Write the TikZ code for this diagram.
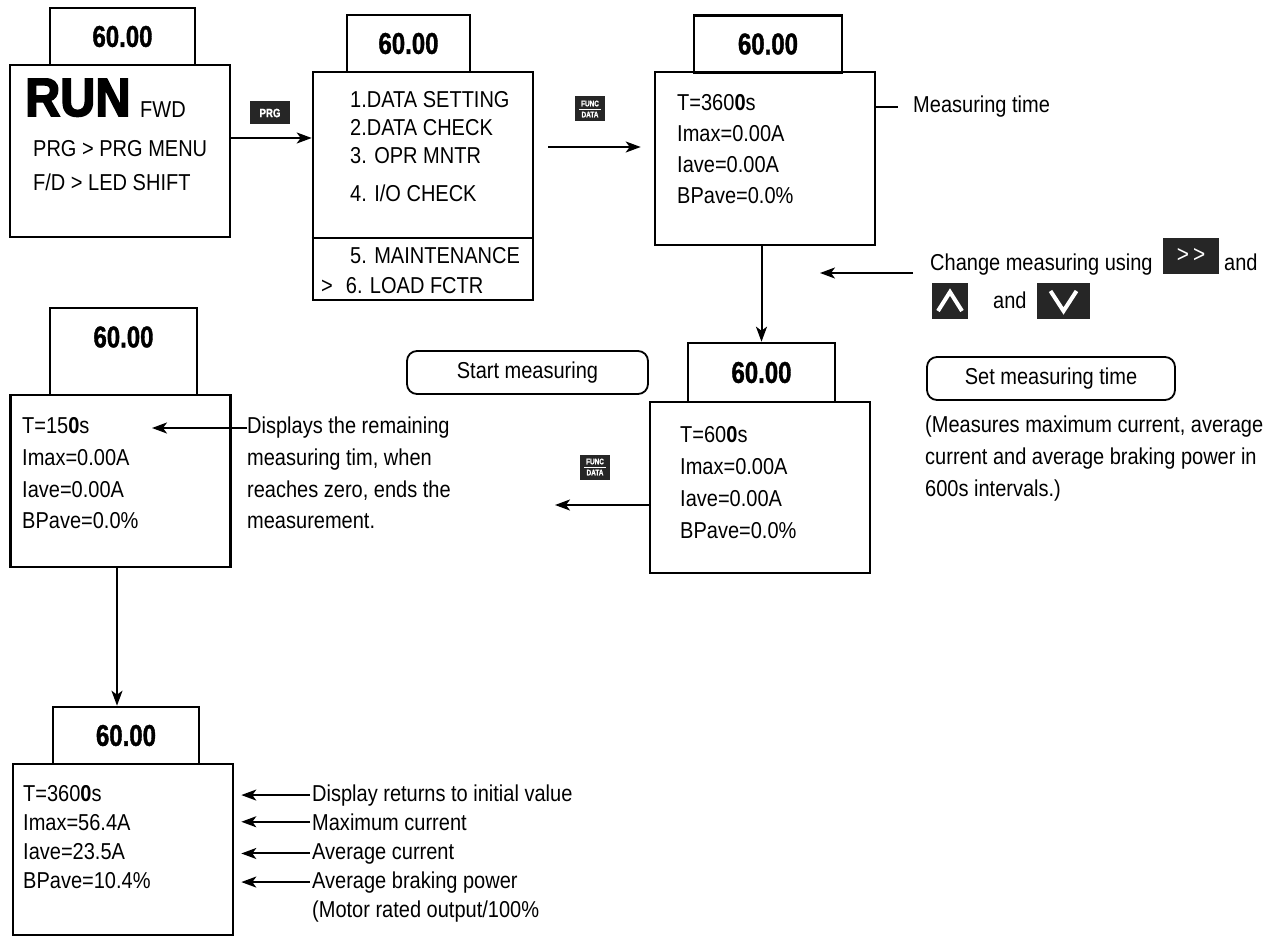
\documentclass[tikz,border=0pt]{standalone}
\usepackage{fontspec}
\setmainfont{Liberation Sans}[FakeStretch=0.87]
\newfontfamily\condfont[FakeStretch=0.8, BoldFeatures={FakeBold=1.2}]{Liberation Sans}
\newfontfamily\heavyfont[FakeStretch=0.9, BoldFeatures={FakeBold=3}]{Liberation Sans}
\usetikzlibrary{arrows.meta}

\begin{document}
\begin{tikzpicture}[x=1pt, y=-1pt,
  scr/.style={draw, line width=2.6pt, minimum width=220pt, inner sep=0pt},
  hdr/.style={draw, line width=2.6pt, inner sep=0pt,
              font=\fontsize{30}{30}\condfont\bfseries},
  txt/.style={anchor=base west, inner sep=0pt, font=\fontsize{23}{23}\selectfont},
  key/.style={fill=black!85, text=white, inner sep=0pt, font=\condfont\bfseries},
  note/.style={draw, rounded corners=10pt, line width=1.8pt, inner sep=0pt,
               font=\fontsize{23}{23}\selectfont},
  arr/.style={-{Stealth[length=15pt, width=11pt, inset=4pt]}, line width=2pt},
  ln/.style={line width=2pt}
]
  \useasboundingbox (0,0) rectangle (1271,936);

  % run screen
  \node[hdr, minimum width=145pt, minimum height=57pt] (hdrA) at (122.5,36.5) {60.00};
  \node[scr, minimum height=172pt] (scrA) at (120,151) {};
  \node[txt, font=\fontsize{54}{54}\heavyfont\bfseries] (run) at (25,116) {RUN};
  \node[txt] (fwd) at (140,118) {FWD};
  \node[txt] (a1) at (33,157) {PRG > PRG MENU};
  \node[txt] (a2) at (33,190) {F/D > LED SHIFT};

  % menu screen
  \node[hdr, minimum width=123pt, minimum height=57pt] (hdrB) at (408.5,43.5) {60.00};
  \node[scr, minimum height=228pt] (scrB) at (423,186) {};
  \draw[line width=2.6pt] ([yshift=-52pt]scrB.west) -- ([yshift=-52pt]scrB.east);
  \node[txt] (b1) at (350,108) {1.DATA SETTING};
  \node[txt] (b2) at (350,136) {2.DATA CHECK};
  \node[txt] (b3) at (350,164) {3. OPR MNTR};
  \node[txt] (b4) at (350,202) {4. I/O CHECK};
  \node[txt] (b5) at (350,263) {5. MAINTENANCE};
  \node[txt] (b6) at (321,293) {>\hspace{13pt}6. LOAD FCTR};

  % measuring time screen
  \node[hdr, minimum width=148pt, minimum height=57pt] (hdrC) at (768,44) {60.00};
  \node[scr, minimum height=173pt] (scrC) at (765,158.5) {};
  \node[txt] (c1) at (677,111) {T=360{\bfseries 0}s};
  \node[txt] (c2) at (677,142) {Imax=0.00A};
  \node[txt] (c3) at (677,173) {Iave=0.00A};
  \node[txt] (c4) at (677,204) {BPave=0.0\%};
  \node[txt] (mtime) at (913,113) {Measuring time};

  % set screen
  \node[hdr, minimum width=147pt, minimum height=59pt] (hdrD) at (761.5,372.5) {60.00};
  \node[scr, minimum height=171pt] (scrD) at (760,487.5) {};
  \node[txt] (d1) at (680,442) {T=60{\bfseries 0}s};
  \node[txt] (d2) at (680,474) {Imax=0.00A};
  \node[txt] (d3) at (680,506) {Iave=0.00A};
  \node[txt] (d4) at (680,538) {BPave=0.0\%};

  % counting screen
  \node[hdr, minimum width=147pt, minimum height=87pt] (hdrE) at (123.5,351.5) {};
  \node[hdr, draw=none] (hdrEt) at (123.5,337) {60.00};
  \node[scr, minimum height=172pt] (scrE) at (120.5,481) {};
  \node[txt] (e1) at (22,433) {T=15{\bfseries 0}s};
  \node[txt] (e2) at (22,465) {Imax=0.00A};
  \node[txt] (e3) at (22,497) {Iave=0.00A};
  \node[txt] (e4) at (22,528) {BPave=0.0\%};
  \node[txt] (r1) at (247,433) {Displays the remaining};
  \node[txt] (r2) at (247,465) {measuring tim, when};
  \node[txt] (r3) at (247,497) {reaches zero, ends the};
  \node[txt] (r4) at (247,528) {measurement.};

  % result screen
  \node[hdr, minimum width=146pt, minimum height=57pt] (hdrF) at (126,735.5) {60.00};
  \node[scr, minimum height=171pt] (scrF) at (123,849.5) {};
  \node[txt] (f1) at (23,801) {T=360{\bfseries 0}s};
  \node[txt] (f2) at (23,830) {Imax=56.4A};
  \node[txt] (f3) at (23,859) {Iave=23.5A};
  \node[txt] (f4) at (23,888) {BPave=10.4\%};
  \node[txt] (g1) at (312,801) {Display returns to initial value};
  \node[txt] (g2) at (312,830) {Maximum current};
  \node[txt] (g3) at (312,859) {Average current};
  \node[txt] (g4) at (312,888) {Average braking power};
  \node[txt] (g5) at (312,917) {(Motor rated output/100\%};

  % keys
  \node[key, minimum width=40pt, minimum height=23pt, font=\fontsize{12}{12}\condfont\bfseries]
    (kPrg) at (270,113) {PRG};
  \node[key, minimum width=30pt, minimum height=25pt, align=center,
        font=\fontsize{8}{11}\condfont\bfseries] (kFd1) at (590,109) {FUNC\\DATA};
  \draw[white, line width=0.8pt] ([xshift=-11pt]kFd1.center) -- ([xshift=11pt]kFd1.center);
  \node[key, minimum width=30pt, minimum height=25pt, align=center,
        font=\fontsize{8}{11}\condfont\bfseries] (kFd2) at (595,467) {FUNC\\DATA};
  \draw[white, line width=0.8pt] ([xshift=-11pt]kFd2.center) -- ([xshift=11pt]kFd2.center);

  % notes
  \node[note, minimum width=241pt, minimum height=43pt] (start) at (527.5,372.5) {Start measuring};
  \node[note, minimum width=248pt, minimum height=43pt] (setm) at (1051,378.5) {Set measuring time};
  \node[txt] (p1) at (925,432) {(Measures maximum current, average};
  \node[txt] (p2) at (925,464) {current and average braking power in};
  \node[txt] (p3) at (925,496) {600s intervals.)};

  \node[txt] (chg) at (930,270) {Change measuring using};
  \node[key, minimum width=56pt, minimum height=36pt, font=\fontsize{24}{24}\selectfont]
    (kShift) at (1191,256) {>\,>};
  \node[txt] (and1) at (1224,270) {and};
  \node[key, minimum width=36pt, minimum height=36pt] (kUp) at (950,301) {};
  \draw[white, line width=4pt] ([shift={(-12,10)}]kUp.center) -- ([shift={(0,-9)}]kUp.center)
    -- ([shift={(12,10)}]kUp.center);
  \node[txt] (and2) at (993,308) {and};
  \node[key, minimum width=53pt, minimum height=36pt] (kDown) at (1063.5,301) {};
  \draw[white, line width=4pt] ([shift={(-13,-10)}]kDown.center) -- ([shift={(0,10)}]kDown.center)
    -- ([shift={(13,-10)}]kDown.center);

  % connectors
  \coordinate (chgTip) at (820,273);
  \coordinate (eTip) at (152,428);
  \coordinate (dTip) at (555,505);

  \draw[arr] ([yshift=13pt]scrA.east) -- ([yshift=13pt]scrA.east -| scrB.west);
  \draw[arr, shorten <=14pt, shorten >=13pt] ([yshift=39pt]scrB.east)
    -- ([yshift=39pt]scrB.east -| scrC.west);
  \draw[ln, shorten >=15pt] (mtime.west -| scrC.east) -- (mtime.west);
  \draw[arr] (scrC.south -| hdrD.north) -- (hdrD.north);
  \draw[arr, shorten <=17pt] (chgTip -| chg.west) -- (chgTip);
  \draw[arr] (dTip -| scrD.west) -- (dTip);
  \draw[arr] (eTip -| r1.west) -- (eTip);
  \draw[arr] ([xshift=-3.5pt]scrE.south) -- ([xshift=-3.5pt]scrE.south |- hdrF.north);
  \draw[arr, shorten <=2pt, shorten >=7pt] (g1.west) -- (g1.west -| scrF.east);
  \draw[arr, shorten <=2pt, shorten >=7pt] (g2.west) -- (g2.west -| scrF.east);
  \draw[arr, shorten <=2pt, shorten >=7pt] (g3.west) -- (g3.west -| scrF.east);
  \draw[arr, shorten <=2pt, shorten >=7pt] (g4.west) -- (g4.west -| scrF.east);
\end{tikzpicture}
\end{document}
